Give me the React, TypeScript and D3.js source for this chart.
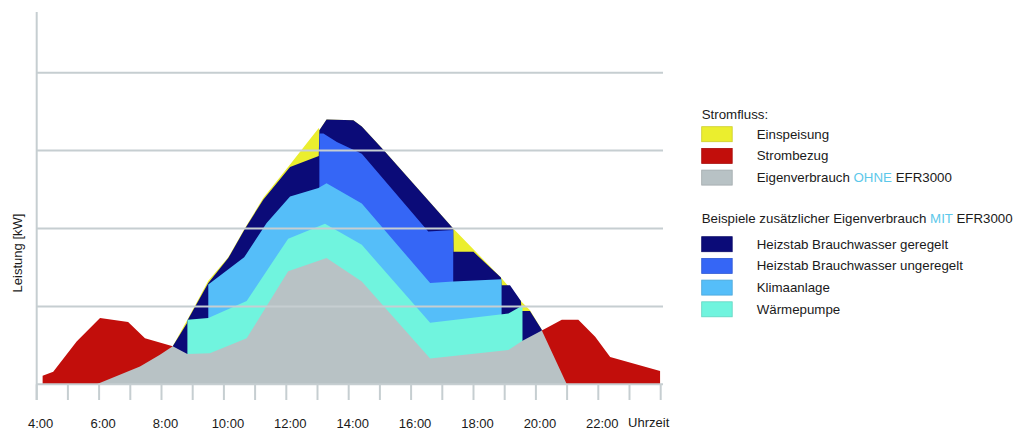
import React, { useEffect, useRef } from 'react';
import * as d3 from 'd3';

type Pt = [number, number];

// Achsen
const tickHours = [4, 5, 6, 7, 8, 9, 10, 11, 12, 13, 14, 15, 16, 17, 18, 19, 20, 21, 22, 23, 24];
const labelHours = [4, 6, 8, 10, 12, 14, 16, 18, 20, 22];
const labelTexts = ['4:00', '6:00', '8:00', '10:00', '12:00', '14:00', '16:00', '18:00', '20:00', '22:00'];
const gridValues = [0, 1, 2, 3, 4];

// Oberkanten der Flaechen [Uhrzeit, kW]
const einspeisungTop: Pt[] = [
  [8.36, 0.49], [8.83, 0.83], [9.5, 1.33], [10.14, 1.63], [10.68, 2.01], [11.26, 2.39],
  [12.12, 2.82], [13.04, 3.29], [13.06, 3.26], [13.29, 3.4], [14.15, 3.39], [14.42, 3.31],
  [15.11, 3.01], [17.35, 2.0], [18.9, 1.36], [19.54, 1.06], [19.81, 0.95], [20.19, 0.7],
];
const geregeltTop: Pt[] = [
  [8.36, 0.49], [8.81, 0.78], [8.83, 0.82], [9.5, 1.3], [10.14, 1.62], [10.68, 2.0],
  [11.26, 2.37], [12.12, 2.79], [13.04, 2.93], [13.06, 3.26], [13.29, 3.4], [14.15, 3.39],
  [14.42, 3.31], [15.11, 3.01], [17.35, 2.0], [17.36, 1.7], [18.0, 1.7], [18.88, 1.37],
  [18.9, 1.27], [19.17, 1.27], [19.52, 1.07], [19.54, 0.94], [19.81, 0.94], [20.19, 0.7],
];
const ungeregeltTop: Pt[] = [
  [13.06, 2.56], [13.06, 3.22], [13.19, 3.22], [13.62, 3.11], [14.42, 2.96], [16.55, 1.96],
  [17.35, 1.98], [17.35, 1.32],
];
const klimaTop: Pt[] = [
  [9.5, 0.85], [9.5, 1.28], [10.65, 1.63], [11.37, 2.07], [12.12, 2.41], [13.03, 2.52],
  [13.29, 2.58], [14.42, 2.32], [16.61, 1.3], [17.35, 1.32], [18.9, 1.35], [18.9, 0.88],
];
const waermepumpeTop: Pt[] = [
  [8.83, 0.39], [8.83, 0.83], [9.5, 0.85], [10.73, 1.07], [12.06, 1.87], [13.24, 2.06],
  [14.42, 1.79], [16.61, 0.79], [19.12, 0.91], [19.57, 1.01], [19.57, 0.56],
];
const bezugMorgens: Pt[] = [
  [4.19, 0], [4.19, 0.11], [4.53, 0.16], [5.28, 0.55], [6.03, 0.85], [6.93, 0.8],
  [7.47, 0.59], [8.36, 0.49], [8.37, 0],
];
const bezugAbends: Pt[] = [
  [20.19, 0], [20.19, 0.69], [20.83, 0.83], [21.36, 0.83], [21.9, 0.61], [22.38, 0.35],
  [23.98, 0.17], [23.98, 0],
];
const eigenverbrauchTop: Pt[] = [
  [5.92, 0], [7.31, 0.23], [7.95, 0.38], [8.36, 0.49], [8.83, 0.39], [9.55, 0.4],
  [10.73, 0.59], [12.06, 1.45], [13.29, 1.62], [14.42, 1.32], [16.61, 0.33], [19.12, 0.44],
  [19.57, 0.56], [20.19, 0.69], [20.99, 0],
];

const colors = {
  einspeisung: '#ebee2e',
  bezug: '#c20e0b',
  eigen: '#b8c2c5',
  geregelt: '#0b0b78',
  ungeregelt: '#3566f6',
  klima: '#55bef9',
  waerme: '#70f4de',
  grid: '#c6ced1',
  text: '#1a1a1a',
  highlight: '#5cc8ea',
};

const font = '"Liberation Sans", Arial, sans-serif';

const App: React.FC = () => {
  const svgRef = useRef<SVGSVGElement | null>(null);

  useEffect(() => {
    if (!svgRef.current) return;
    const svg = d3.select(svgRef.current);
    svg.selectAll('*').remove();

    const x = d3.scaleLinear().domain([4, 24]).range([36.7, 660.7]);
    const y = d3.scaleLinear().domain([0, 4]).range([384.3, 72.7]);

    const area = d3.area<Pt>()
      .x(d => x(d[0]))
      .y0(y(0))
      .y1(d => y(d[1]));

    // Flaechen, von hinten nach vorne
    const layers: [Pt[], string][] = [
      [einspeisungTop, colors.einspeisung],
      [geregeltTop, colors.geregelt],
      [ungeregeltTop, colors.ungeregelt],
      [klimaTop, colors.klima],
      [waermepumpeTop, colors.waerme],
      [bezugMorgens, colors.bezug],
      [bezugAbends, colors.bezug],
      [eigenverbrauchTop, colors.eigen],
    ];
    svg.append('g')
      .selectAll('path')
      .data(layers)
      .enter().append('path')
      .attr('d', d => area(d[0]) || '')
      .attr('fill', d => d[1]);

    // Gitterlinien ueber den Flaechen
    svg.append('g')
      .selectAll('line')
      .data(gridValues)
      .enter().append('line')
      .attr('x1', x(4))
      .attr('x2', 663)
      .attr('y1', d => y(d))
      .attr('y2', d => y(d))
      .attr('stroke', colors.grid)
      .attr('stroke-width', 2);

    // y-Achse
    svg.append('line')
      .attr('x1', x(4)).attr('x2', x(4))
      .attr('y1', 12).attr('y2', 400)
      .attr('stroke', colors.grid)
      .attr('stroke-width', 2);

    // Stundenticks
    svg.append('g')
      .selectAll('line')
      .data(tickHours)
      .enter().append('line')
      .attr('x1', d => x(d)).attr('x2', d => x(d))
      .attr('y1', y(0)).attr('y2', 400)
      .attr('stroke', colors.grid)
      .attr('stroke-width', 2);

    svg.append('g')
      .selectAll('text')
      .data(labelHours)
      .enter().append('text')
      .attr('x', d => x(d) + 4)
      .attr('y', 427.5)
      .attr('text-anchor', 'middle')
      .attr('font-family', font)
      .attr('font-size', 13)
      .attr('fill', colors.text)
      .text((d, i) => labelTexts[i]);

    svg.append('text')
      .attr('x', x(24) - 12)
      .attr('y', 427)
      .attr('text-anchor', 'middle')
      .attr('font-family', font)
      .attr('font-size', 13)
      .attr('fill', colors.text)
      .text('Uhrzeit');

    svg.append('text')
      .attr('transform', 'translate(22,253) rotate(-90)')
      .attr('text-anchor', 'middle')
      .attr('font-family', font)
      .attr('font-size', 13)
      .attr('fill', colors.text)
      .text('Leistung [kW]');

    // Legende
    const legend = svg.append('g')
      .attr('font-family', font)
      .attr('font-size', 13.3)
      .attr('fill', colors.text);

    const addTitle = (parts: [string, boolean][], ty: number) => {
      const t = legend.append('text').attr('x', 701.7).attr('y', ty);
      parts.forEach(([s, hi]) => {
        t.append('tspan').attr('fill', hi ? colors.highlight : colors.text).text(s);
      });
    };

    const addItems = (items: [[string, boolean][], string][], top: number) => {
      items.forEach(([parts, fill], i) => {
        const sy = top + i * 21.7;
        legend.append('rect')
          .attr('x', 701.7).attr('y', sy)
          .attr('width', 30.5).attr('height', 15)
          .attr('fill', fill)
          .attr('stroke', d3.color(fill)!.darker(0.4).formatHex())
          .attr('stroke-width', 0.8);
        const t = legend.append('text').attr('x', 756.7).attr('y', sy + 12);
        parts.forEach(([s, hi]) => {
          t.append('tspan').attr('fill', hi ? colors.highlight : colors.text).text(s);
        });
      });
    };

    addTitle([['Stromfluss:', false]], 118.5);
    addItems([
      [[['Einspeisung', false]], colors.einspeisung],
      [[['Strombezug', false]], colors.bezug],
      [[['Eigenverbrauch ', false], ['OHNE', true], [' EFR3000', false]], colors.eigen],
    ], 126.7);

    addTitle([['Beispiele zusätzlicher Eigenverbrauch ', false], ['MIT', true], [' EFR3000', false]], 222.8);
    addItems([
      [[['Heizstab Brauchwasser geregelt', false]], colors.geregelt],
      [[['Heizstab Brauchwasser ungeregelt', false]], colors.ungeregelt],
      [[['Klimaanlage', false]], colors.klima],
      [[['Wärmepumpe', false]], colors.waerme],
    ], 236.7);
  }, []);

  return (
    <svg
      ref={svgRef}
      width={1024}
      height={439}
      style={{ position: 'absolute', left: 0, top: 0, background: '#fff' }}
    />
  );
};

export default App;
